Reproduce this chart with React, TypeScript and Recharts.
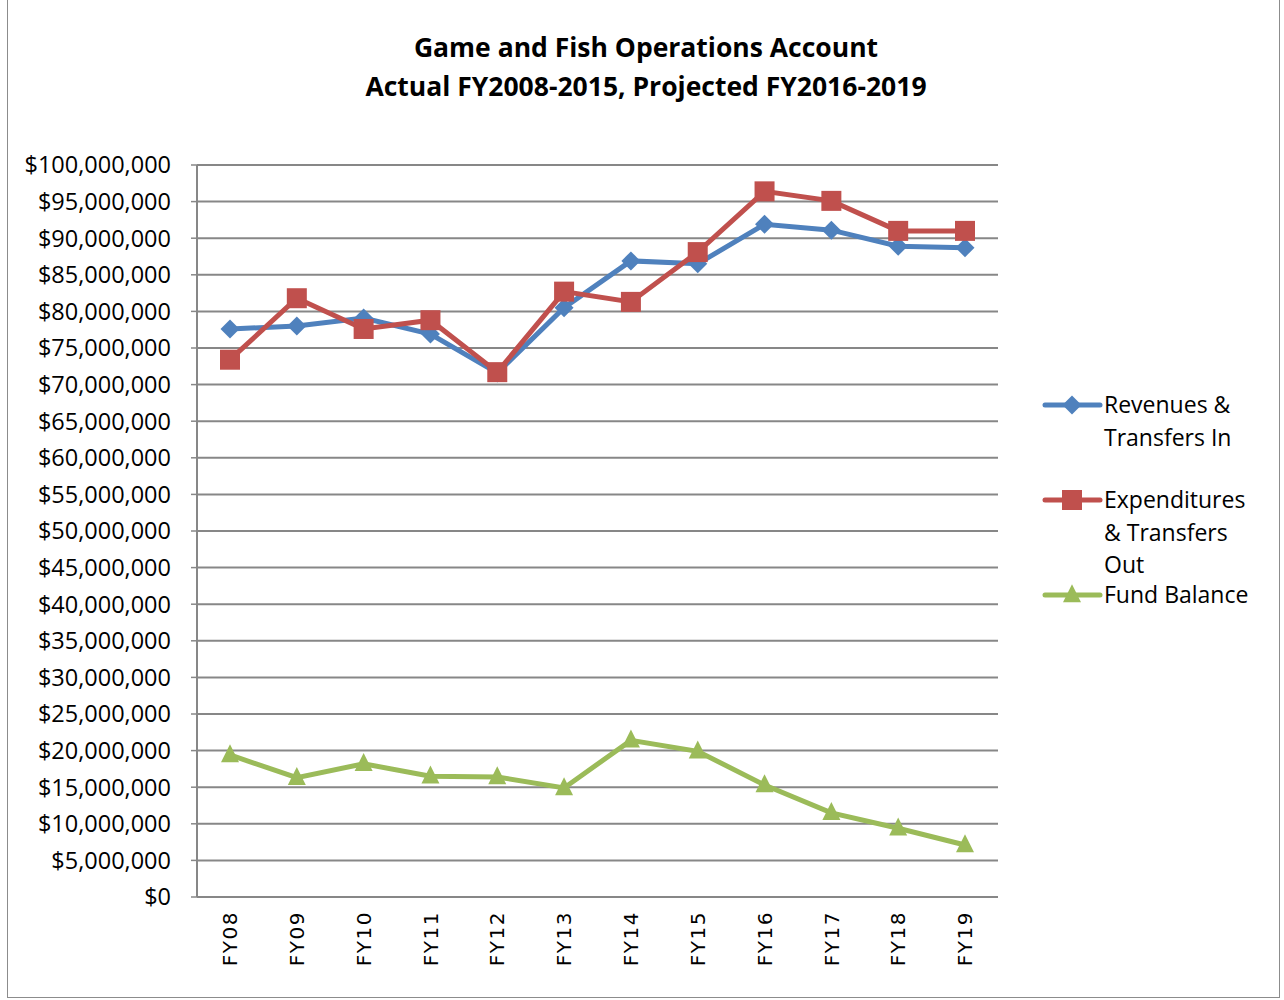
import { LineChart, Line, XAxis, YAxis, CartesianGrid } from "recharts";

const years = ["FY08", "FY09", "FY10", "FY11", "FY12", "FY13", "FY14", "FY15", "FY16", "FY17", "FY18", "FY19"];

const revenues = [77.6, 78.0, 79.1, 76.9, 71.6, 80.5, 86.9, 86.5, 91.9, 91.1, 88.9, 88.7];
const expenditures = [73.4, 81.8, 77.6, 78.8, 71.7, 82.7, 81.3, 88.1, 96.4, 95.1, 91.0, 91.0];
const fundBalance = [19.4, 16.3, 18.2, 16.5, 16.4, 14.9, 21.4, 19.9, 15.3, 11.5, 9.4, 7.1];

const yTicks = [0, 5, 10, 15, 20, 25, 30, 35, 40, 45, 50, 55, 60, 65, 70, 75, 80, 85, 90, 95, 100].map((m) => m * 1000000);

const data = years.map((fy, i) => ({
    fy,
    rev: revenues[i] * 1000000,
    exp: expenditures[i] * 1000000,
    fund: fundBalance[i] * 1000000,
}));

const BLUE = "#4F81BD";
const RED = "#C0504D";
const GREEN = "#9BBB59";
const GRID = "#878787";
const FONT = "'Open Sans', sans-serif";

const fmtMoney = (v: number) => "$" + v.toLocaleString("en-US");

type Shape = "diamond" | "square" | "triangle";

function marker(shape: Shape, color: string, cx: number, cy: number, key?: string) {
    if (shape === "diamond") {
        const r = 9.5;
        return <path key={key} d={`M${cx},${cy - r}L${cx + r},${cy}L${cx},${cy + r}L${cx - r},${cy}Z`} fill={color} />;
    }
    if (shape === "square") {
        const r = 10;
        return <rect key={key} x={cx - r} y={cy - r} width={r * 2} height={r * 2} fill={color} />;
    }
    const h = 18, w = 18;
    return <path key={key} d={`M${cx},${cy - h * 0.6}L${cx + w / 2},${cy + h * 0.4}L${cx - w / 2},${cy + h * 0.4}Z`} fill={color} />;
}

const dotFor = (shape: Shape, color: string) => (p: any) => marker(shape, color, p.cx, p.cy, `${shape}-${p.index}`);

function FyTick({ x, y, payload }: any) {
    return (
        <g transform={`translate(${x},${y + 6}) rotate(-90)`}>
            <text x={0} y={0} dy="0.36em" textAnchor="end" fontSize={20} letterSpacing={1.5} fontFamily="'DejaVu Sans', sans-serif" fill="#000">
                {payload.value}
            </text>
        </g>
    );
}

const legendItems = [
    { label: "Revenues & Transfers In", color: BLUE, shape: "diamond" as Shape, top: 0 },
    { label: "Expenditures & Transfers Out", color: RED, shape: "square" as Shape, top: 95 },
    { label: "Fund Balance", color: GREEN, shape: "triangle" as Shape, top: 190 },
];

function ChartLegend() {
    return (
        <div style={{ position: "absolute", left: 1042, top: 389, width: 240, height: 230, fontFamily: FONT, fontSize: 23, color: "#000" }}>
            {legendItems.map((it) => (
                <div key={it.label} style={{ position: "absolute", left: 0, top: it.top, display: "flex" }}>
                    <svg width={62} height={32} style={{ flex: "none" }}>
                        <line x1={3} y1={16} x2={58} y2={16} stroke={it.color} strokeWidth={5} strokeLinecap="round" />
                        {marker(it.shape, it.color, 30, 16)}
                    </svg>
                    <div style={{ width: 150, lineHeight: "32.5px", marginTop: -1 }}>{it.label}</div>
                </div>
            ))}
        </div>
    );
}

export default function App() {
    return (
        <div style={{ position: "absolute", left: 0, top: 0, width: 1284, height: 1000, background: "#fff" }}>
            <div style={{ position: "absolute", left: 7, top: -2, width: 1273, height: 1000, border: "1.5px solid #8c8c8c", boxSizing: "border-box" }} />
            <div style={{ position: "absolute", left: 0, top: 28, width: 1292, textAlign: "center", fontFamily: FONT, fontWeight: 700, fontSize: 26.5, lineHeight: "39px", color: "#000" }}>
                Game and Fish Operations Account<br />Actual FY2008-2015, Projected FY2016-2019
            </div>
            <LineChart
                width={1284}
                height={1000}
                data={data}
                margin={{ top: 165, right: 286, bottom: 23, left: 7 }}
                style={{ position: "absolute", left: 0, top: 0 }}
            >
                <CartesianGrid vertical={false} stroke={GRID} strokeWidth={2} />
                <XAxis
                    dataKey="fy"
                    height={80}
                    padding={{ left: 33, right: 33 }}
                    axisLine={{ stroke: GRID, strokeWidth: 2 }}
                    tickLine={false}
                    interval={0}
                    tick={<FyTick />}
                />
                <YAxis
                    width={190}
                    domain={[0, 100000000]}
                    ticks={yTicks}
                    interval={0}
                    tickFormatter={fmtMoney}
                    axisLine={{ stroke: GRID, strokeWidth: 2 }}
                    tickLine={{ stroke: GRID, strokeWidth: 1.5 }}
                    tickSize={6}
                    tick={{ fontSize: 23.5, fontFamily: FONT, fill: "#000", dx: -18 }}
                />
                <Line dataKey="rev" name="Revenues & Transfers In" stroke={BLUE} strokeWidth={5} dot={dotFor("diamond", BLUE)} isAnimationActive={false} />
                <Line dataKey="exp" name="Expenditures & Transfers Out" stroke={RED} strokeWidth={5} dot={dotFor("square", RED)} isAnimationActive={false} />
                <Line dataKey="fund" name="Fund Balance" stroke={GREEN} strokeWidth={5} dot={dotFor("triangle", GREEN)} isAnimationActive={false} />
            </LineChart>
            <ChartLegend />
        </div>
    );
}
